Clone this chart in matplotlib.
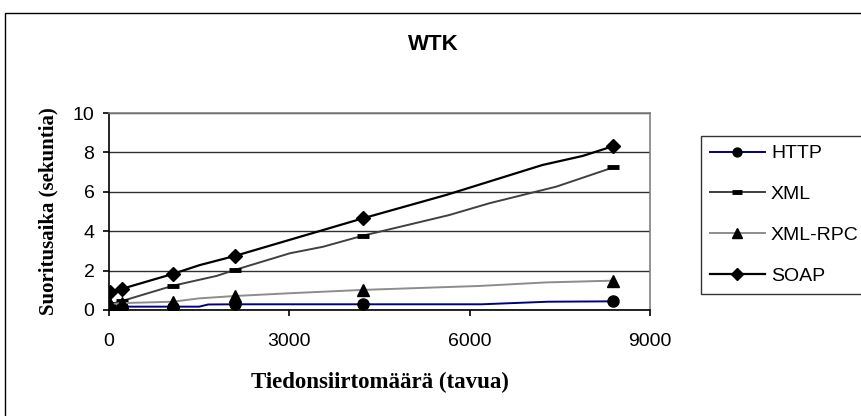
import matplotlib.pyplot as plt
from matplotlib.patches import Rectangle

# Data (x in bytes, y in seconds)
http_x = [20, 210, 1060, 1500, 1650, 2090, 4220, 6200, 7300, 8390]
http_y = [0.17, 0.17, 0.17, 0.17, 0.28, 0.29, 0.29, 0.29, 0.42, 0.44]
http_marks = [0, 1, 2, 5, 6, 9]

xml_x = [20, 210, 1060, 1790, 2090, 3010, 3560, 4220, 5660, 6330, 7440, 8390]
xml_y = [0.3, 0.45, 1.23, 1.73, 2.03, 2.88, 3.21, 3.77, 4.82, 5.42, 6.26, 7.24]
xml_marks = [0, 1, 2, 4, 7, 11]

rpc_x = [20, 210, 1060, 1500, 2090, 3000, 4220, 6160, 7270, 8390]
rpc_y = [0.3, 0.35, 0.42, 0.59, 0.71, 0.85, 1.02, 1.22, 1.40, 1.49]
rpc_marks = [0, 1, 2, 4, 6, 9]

soap_x = [20, 210, 1060, 1510, 2090, 4220, 5610, 7210, 7880, 8390]
soap_y = [0.93, 1.07, 1.83, 2.28, 2.74, 4.65, 5.84, 7.36, 7.82, 8.32]
soap_marks = [0, 1, 2, 4, 5, 9]

x_ticks = [0, 3000, 6000, 9000]
y_ticks = [0, 2, 4, 6, 8, 10]

W, H = 861, 416
fig = plt.figure(figsize=(W / 100, H / 100), dpi=100)

# chart area frame (runs off the right and bottom edges)
fig.patches.append(Rectangle((5 / W, -0.1), 1.0, 1 - 13 / H + 0.1,
                             transform=fig.transFigure, fill=False,
                             edgecolor='black', linewidth=1))

ax = fig.add_axes([109 / W, 1 - 310 / H, (650 - 109) / W, (310 - 113) / H])

ax.plot(http_x, http_y, color='#000080', lw=1.4, marker='o', ms=8,
        mfc='black', mec='black', markevery=http_marks, label='HTTP')
ax.plot(xml_x, xml_y, color='#404040', lw=1.4, marker='_', ms=9, mew=3.5,
        mfc='black', mec='black', markevery=xml_marks, label='XML')
ax.plot(rpc_x, rpc_y, color='#8c8c8c', lw=1.4, marker='^', ms=9,
        mfc='black', mec='black', markevery=rpc_marks, label='XML-RPC')
ax.plot(soap_x, soap_y, color='black', lw=1.6, marker='D', ms=7.5,
        mfc='black', mec='black', markevery=soap_marks, label='SOAP')

ax.set_xlim(0, 9000)
ax.set_ylim(0, 10)
ax.set_xticks(x_ticks)
ax.set_yticks(y_ticks)
ax.yaxis.grid(True, color='#303030', linewidth=1)
ax.set_axisbelow(True)

for s in ('top', 'right'):
    ax.spines[s].set_color('#808080')
    ax.spines[s].set_linewidth(1.2)
for s in ('left', 'bottom'):
    ax.spines[s].set_color('black')
    ax.spines[s].set_linewidth(1.2)

ax.tick_params(direction='out', length=4.5, width=1.2, color='black',
               labelsize=14)
ax.tick_params(axis='x', pad=12)
ax.tick_params(axis='y', pad=6)
for lab in ax.get_xticklabels() + ax.get_yticklabels():
    lab.set_fontfamily('Liberation Sans')

ax.set_xlabel('Tiedonsiirtomäärä (tavua)', fontfamily='Liberation Serif',
              fontweight='bold', fontsize=16.5, labelpad=16)
ax.set_ylabel('Suoritusaika (sekuntia)', fontfamily='Liberation Serif',
              fontweight='bold', fontsize=15, labelpad=10)

fig.text(433 / W, 1 - 44 / H, 'WTK', ha='center', va='center',
         fontfamily='Liberation Sans', fontweight='bold', fontsize=16)

leg = fig.legend(loc='upper left', bbox_to_anchor=(701 / W, 1 - 136 / H),
                 prop={'family': 'Liberation Sans', 'size': 14},
                 handlelength=2.85, handletextpad=0.3, labelspacing=1.2,
                 borderpad=0.45, borderaxespad=0, fancybox=False,
                 markerscale=0.8, frameon=True)
leg.get_frame().set_edgecolor('black')
leg.get_frame().set_linewidth(1)

fig.savefig('out.png', dpi=100)
